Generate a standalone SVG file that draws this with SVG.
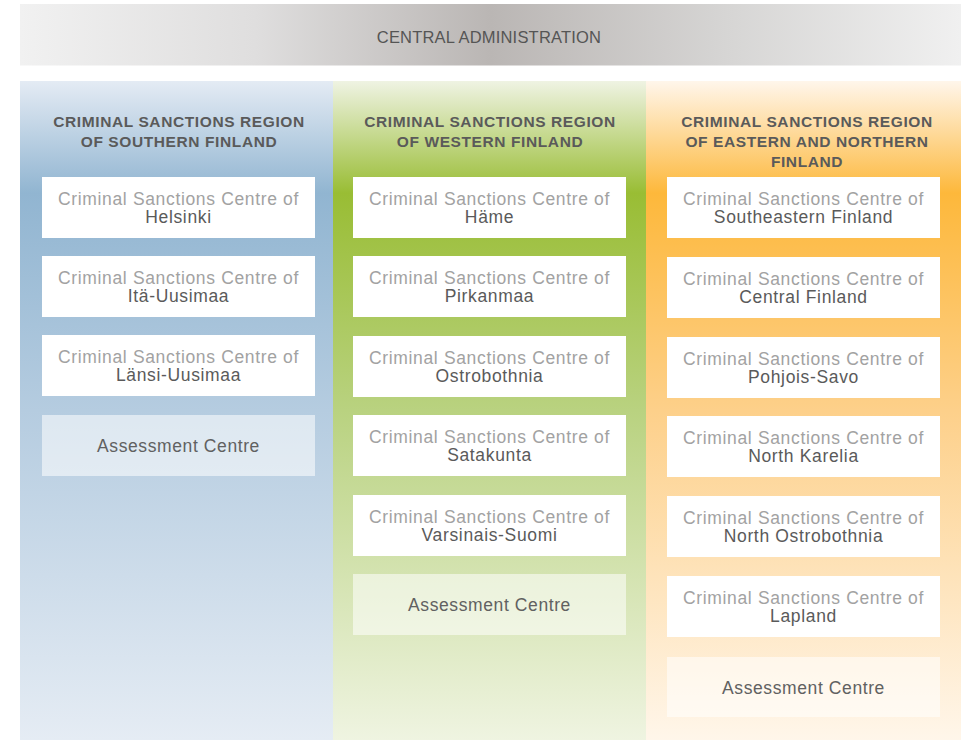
<svg xmlns="http://www.w3.org/2000/svg" width="966" height="740" viewBox="0 0 966 740">
  <defs>
    <linearGradient id="gAdmin" x1="0" y1="0" x2="1" y2="0">
      <stop offset="0" stop-color="#f1f1f1"/>
      <stop offset="0.25" stop-color="#dfdede"/>
      <stop offset="0.5" stop-color="#bab6b4"/>
      <stop offset="0.75" stop-color="#d6d5d4"/>
      <stop offset="1" stop-color="#f0f0f0"/>
    </linearGradient>
    <linearGradient id="gBlue" x1="0" y1="81" x2="0" y2="740" gradientUnits="userSpaceOnUse">
      <stop offset="0" stop-color="#e4ebf4"/>
      <stop offset="0.17" stop-color="#91b5d1"/>
      <stop offset="0.5" stop-color="#b5cce0"/>
      <stop offset="1" stop-color="#e5ecf4"/>
    </linearGradient>
    <linearGradient id="gGreen" x1="0" y1="81" x2="0" y2="740" gradientUnits="userSpaceOnUse">
      <stop offset="0" stop-color="#eff3e3"/>
      <stop offset="0.17" stop-color="#99bd34"/>
      <stop offset="0.5" stop-color="#b9d280"/>
      <stop offset="1" stop-color="#eff4e1"/>
    </linearGradient>
    <linearGradient id="gOrange" x1="0" y1="81" x2="0" y2="740" gradientUnits="userSpaceOnUse">
      <stop offset="0" stop-color="#fff6eb"/>
      <stop offset="0.17" stop-color="#fdb83b"/>
      <stop offset="0.5" stop-color="#fdd08a"/>
      <stop offset="1" stop-color="#fff6ea"/>
    </linearGradient>
    <style>
      .admin { font-family: "Liberation Sans", Arial, sans-serif; font-size: 16.5px; letter-spacing: 0.2px; fill: #555555; text-anchor: middle; }
      .head { font-family: "Liberation Sans", Arial, sans-serif; font-size: 15.5px; font-weight: bold; letter-spacing: 0.6px; fill: #5a5a5a; text-anchor: middle; }
      .box { fill: #ffffff; }
      .abox { fill: #ffffff; fill-opacity: 0.55; }
      .pre { font-family: "Liberation Sans", Arial, sans-serif; font-size: 17.5px; letter-spacing: 0.65px; fill: #a2a2a2; text-anchor: middle; }
      .name { font-family: "Liberation Sans", Arial, sans-serif; font-size: 17.5px; letter-spacing: 0.65px; fill: #5a5a5a; text-anchor: middle; }
      .assess { font-family: "Liberation Sans", Arial, sans-serif; font-size: 17.5px; letter-spacing: 0.6px; fill: #616161; text-anchor: middle; }
    </style>
  </defs>

  <!-- Central administration bar -->
  <g id="central-administration">
    <rect x="20" y="4" width="941" height="61.5" fill="url(#gAdmin)"/>
    <text class="admin" x="489" y="42.7">CENTRAL ADMINISTRATION</text>
  </g>

  <!-- Regional columns -->
  <g id="region-southern">
    <rect x="20" y="81" width="313" height="659" fill="url(#gBlue)"/>
    <text class="head" x="179" y="127">CRIMINAL SANCTIONS REGION</text>
    <text class="head" x="179" y="147">OF SOUTHERN FINLAND</text>
  </g>
  <g id="region-western">
    <rect x="333" y="81" width="313" height="659" fill="url(#gGreen)"/>
    <text class="head" x="490" y="127">CRIMINAL SANCTIONS REGION</text>
    <text class="head" x="490" y="147">OF WESTERN FINLAND</text>
  </g>
  <g id="region-eastern-northern">
    <rect x="646" y="81" width="315" height="659" fill="url(#gOrange)"/>
    <text class="head" x="807" y="127">CRIMINAL SANCTIONS REGION</text>
    <text class="head" x="807" y="147">OF EASTERN AND NORTHERN</text>
    <text class="head" x="807" y="166.5">FINLAND</text>
  </g>

  <!-- Southern Finland centres -->
  <g id="helsinki">
    <rect class="box" x="42" y="177" width="273" height="61"/>
    <text class="pre" x="178.5" y="204.5">Criminal Sanctions Centre of</text>
    <text class="name" x="178.5" y="223">Helsinki</text>
  </g>
  <g id="ita-uusimaa">
    <rect class="box" x="42" y="256" width="273" height="61"/>
    <text class="pre" x="178.5" y="283.5">Criminal Sanctions Centre of</text>
    <text class="name" x="178.5" y="302">Itä-Uusimaa</text>
  </g>
  <g id="lansi-uusimaa">
    <rect class="box" x="42" y="335" width="273" height="61"/>
    <text class="pre" x="178.5" y="362.5">Criminal Sanctions Centre of</text>
    <text class="name" x="178.5" y="381">Länsi-Uusimaa</text>
  </g>
  <g id="assessment-southern">
    <rect class="abox" x="42" y="415" width="273" height="61"/>
    <text class="assess" x="178.5" y="452">Assessment Centre</text>
  </g>

  <!-- Western Finland centres -->
  <g id="hame">
    <rect class="box" x="353" y="177" width="273" height="61"/>
    <text class="pre" x="489.5" y="204.5">Criminal Sanctions Centre of</text>
    <text class="name" x="489.5" y="223">Häme</text>
  </g>
  <g id="pirkanmaa">
    <rect class="box" x="353" y="256" width="273" height="61"/>
    <text class="pre" x="489.5" y="283.5">Criminal Sanctions Centre of</text>
    <text class="name" x="489.5" y="302">Pirkanmaa</text>
  </g>
  <g id="ostrobothnia">
    <rect class="box" x="353" y="336" width="273" height="61"/>
    <text class="pre" x="489.5" y="363.5">Criminal Sanctions Centre of</text>
    <text class="name" x="489.5" y="382">Ostrobothnia</text>
  </g>
  <g id="satakunta">
    <rect class="box" x="353" y="415" width="273" height="61"/>
    <text class="pre" x="489.5" y="442.5">Criminal Sanctions Centre of</text>
    <text class="name" x="489.5" y="461">Satakunta</text>
  </g>
  <g id="varsinais-suomi">
    <rect class="box" x="353" y="495" width="273" height="61"/>
    <text class="pre" x="489.5" y="522.5">Criminal Sanctions Centre of</text>
    <text class="name" x="489.5" y="541">Varsinais-Suomi</text>
  </g>
  <g id="assessment-western">
    <rect class="abox" x="353" y="574" width="273" height="61"/>
    <text class="assess" x="489.5" y="611">Assessment Centre</text>
  </g>

  <!-- Eastern and Northern Finland centres -->
  <g id="southeastern-finland">
    <rect class="box" x="667" y="177" width="273" height="61"/>
    <text class="pre" x="803.5" y="204.5">Criminal Sanctions Centre of</text>
    <text class="name" x="803.5" y="223">Southeastern Finland</text>
  </g>
  <g id="central-finland">
    <rect class="box" x="667" y="257" width="273" height="61"/>
    <text class="pre" x="803.5" y="284.5">Criminal Sanctions Centre of</text>
    <text class="name" x="803.5" y="303">Central Finland</text>
  </g>
  <g id="pohjois-savo">
    <rect class="box" x="667" y="337" width="273" height="61"/>
    <text class="pre" x="803.5" y="364.5">Criminal Sanctions Centre of</text>
    <text class="name" x="803.5" y="383">Pohjois-Savo</text>
  </g>
  <g id="north-karelia">
    <rect class="box" x="667" y="416" width="273" height="61"/>
    <text class="pre" x="803.5" y="443.5">Criminal Sanctions Centre of</text>
    <text class="name" x="803.5" y="462">North Karelia</text>
  </g>
  <g id="north-ostrobothnia">
    <rect class="box" x="667" y="496" width="273" height="61"/>
    <text class="pre" x="803.5" y="523.5">Criminal Sanctions Centre of</text>
    <text class="name" x="803.5" y="542">North Ostrobothnia</text>
  </g>
  <g id="lapland">
    <rect class="box" x="667" y="576" width="273" height="61"/>
    <text class="pre" x="803.5" y="603.5">Criminal Sanctions Centre of</text>
    <text class="name" x="803.5" y="622">Lapland</text>
  </g>
  <g id="assessment-eastern-northern">
    <rect class="abox" x="667" y="657" width="273" height="60"/>
    <text class="assess" x="803.5" y="694">Assessment Centre</text>
  </g>

  <!-- No connectors are drawn in this chart -->
  <g id="connectors"/>
</svg>
